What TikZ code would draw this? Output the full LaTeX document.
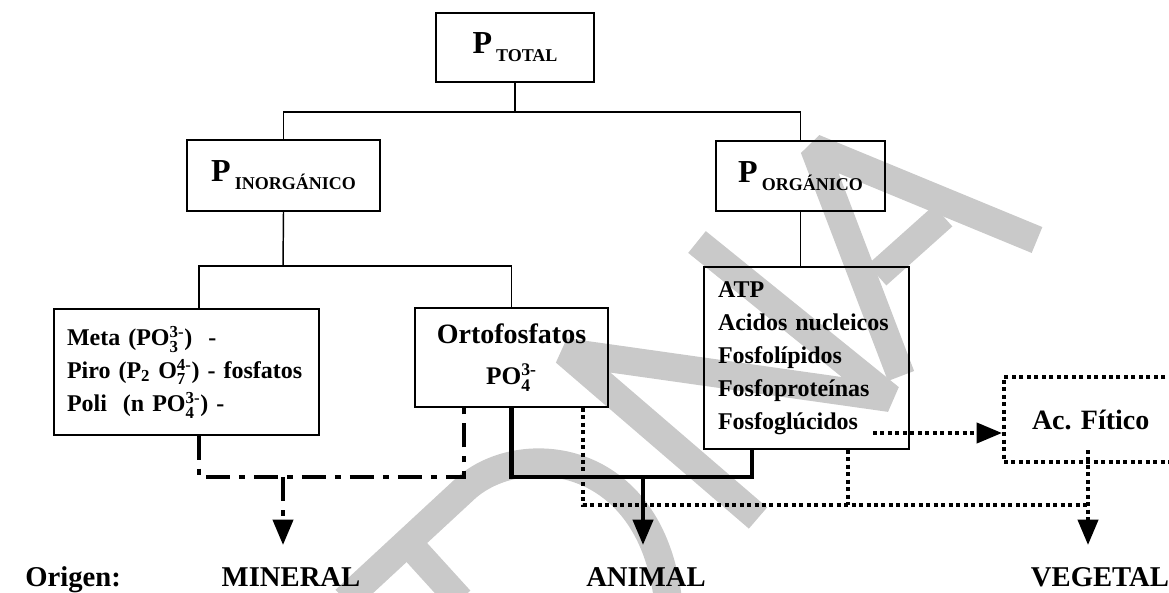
\documentclass[tikz,border=0pt]{standalone}
\usepackage{amsmath}
\usepackage{fontspec}
\setmainfont{Liberation Serif}
\usetikzlibrary{arrows.meta}
\definecolor{wgray}{gray}{0.79}

\newcommand\ionsub[2]{$_{\textbf{#1}}^{\textbf{#2}}$}
\newcommand\pname[1]{{\fontsize{24}{24}\selectfont P}\hspace{3pt}\raisebox{-6pt}{\fontsize{13.5}{13.5}\selectfont #1}}

\begin{document}
\begin{tikzpicture}[x=0.75pt,y=-0.75pt,>={Triangle[width=15pt,length=19pt]},
    box/.style={draw,line width=1.1pt,inner sep=0pt,font=\bfseries},
    thinline/.style={line width=1.1pt},
    heavy/.style={line width=3.2pt},
    dashdot/.style={line width=3pt,dash pattern=on 18pt off 6.75pt on 4.5pt off 6.75pt},
    dotline/.style={line width=3pt,dash pattern=on 3pt off 2.6pt},
    wmark/.style={line width=21pt,color=wgray,line join=bevel},
    listfont/.style={font=\bfseries\fontsize{18}{24.75}\selectfont},
    origin/.style={font=\bfseries\fontsize{21.5}{24}\selectfont,anchor=base,inner sep=0pt}]
  \useasboundingbox (0,0) rectangle (1169,592);
  \clip (0,0) rectangle (1169,592);

  \draw[wmark] (345,600) -- (466,488) .. controls (520,440) and (650,450) .. (668,600);
  \draw[wmark] (410,545) -- (460,600);
  \draw[wmark] (758,518) -- (565,352) -- (890,398) -- (697,242);
  \draw[wmark] (901,376) -- (814,148) -- (1037,240);
  \draw[wmark] (877,275) -- (943,216);

  \node[box,minimum width=118.5pt,minimum height=51.75pt] (tot) at (515,47.5) {\pname{TOTAL}};
  \node[box,minimum width=144.75pt,minimum height=53.25pt] (inorg) at (283.5,175.5) {\pname{INORGÁNICO}};
  \node[box,minimum width=126.75pt,minimum height=52.5pt] (org) at (800.5,176) {\pname{ORGÁNICO}};
  \node[box,listfont,minimum width=198.75pt,minimum height=94.5pt,inner xsep=9.75pt,
        text width=179.25pt,align=left] (meta) at (186.5,372)
       {\mbox{Meta (PO\ionsub{3}{3-})\ \ -}\\
        \mbox{Piro (P$_{\textbf{2}}$ O\ionsub{7}{4-})\ -\ fosfatos}\\
        \mbox{Poli\ \ (n PO\ionsub{4}{3-}) -}};
  \node[box,minimum width=144.75pt,minimum height=74.25pt,align=center,
        font=\bfseries\fontsize{21}{28.5}\selectfont] (orto) at (511.5,357.5)
       {Ortofosfatos\\[2pt]{\fontsize{19}{28.5}\selectfont PO\ionsub{4}{3-}}};
  \node[box,listfont,minimum width=153.75pt,minimum height=136.5pt,inner xsep=10.5pt,
        text width=132.75pt,align=left] (organ) at (806.5,358)
       {ATP\\Acidos nucleicos\\Fosfolípidos\\Fosfoproteínas\\Fosfoglúcidos};
  \node[draw,dotline,inner sep=0pt,minimum width=177pt,minimum height=63.75pt,inner xsep=21pt,
        text width=135pt,align=left,font=\bfseries\fontsize{21}{24}\selectfont] (fitico) at (1122,419.5)
       {Ac.\ Fítico};

  \node[origin,anchor=base west] (orig) at (25,586) {Origen:};
  \node[origin] (mineral) at (291,586) {MINERAL};
  \node[origin] (animal) at (646,586) {ANIMAL};
  \node[origin] (vegetal) at (1100,586) {VEGETAL};

  \coordinate (top) at (515,112);
  \coordinate (mid) at (283,266);
  \coordinate (mjoin) at (283,477);
  \coordinate (ajoin) at (643,477);
  \coordinate (vjoin) at (1088,505);
  \coordinate (gluc) at (873,433);
  \coordinate (fitout) at (1088,450);
  \coordinate (mtip) at (283,545);
  \coordinate (atip) at (643,545);
  \coordinate (vtip) at (1088,545);

  \draw[thinline] (tot.south) -- (top);
  \draw[thinline] (inorg.north) |- (top) -| (org.north);
  \draw[thinline] (inorg.south) -- (mid);
  \draw[thinline] ([xshift=9.4pt]meta.north) |- (mid) -| (orto.north);
  \draw[thinline] (org.south) -- (org.south |- organ.north);

  \draw[dashdot] ([xshift=9.4pt]meta.south) |- ([xshift=-35.6pt]orto.south |- mjoin) -- ([xshift=-35.6pt]orto.south);
  \draw[dashdot,->] (mjoin) -- (mtip);
  \draw[heavy] (orto.south) |- ([xshift=-40.9pt]organ.south |- ajoin) -- ([xshift=-40.9pt]organ.south);
  \draw[heavy,->] (ajoin) -- (atip);
  \draw[dotline] ([xshift=53.6pt]orto.south) |- (vjoin);
  \draw[dotline] ([xshift=31.1pt]organ.south) -- ([xshift=31.1pt]organ.south |- vjoin);
  \draw[dotline,->] (fitout) -- (vtip);
  \draw[dotline,->] (gluc) -- (fitico.west |- gluc);
\end{tikzpicture}
\end{document}
